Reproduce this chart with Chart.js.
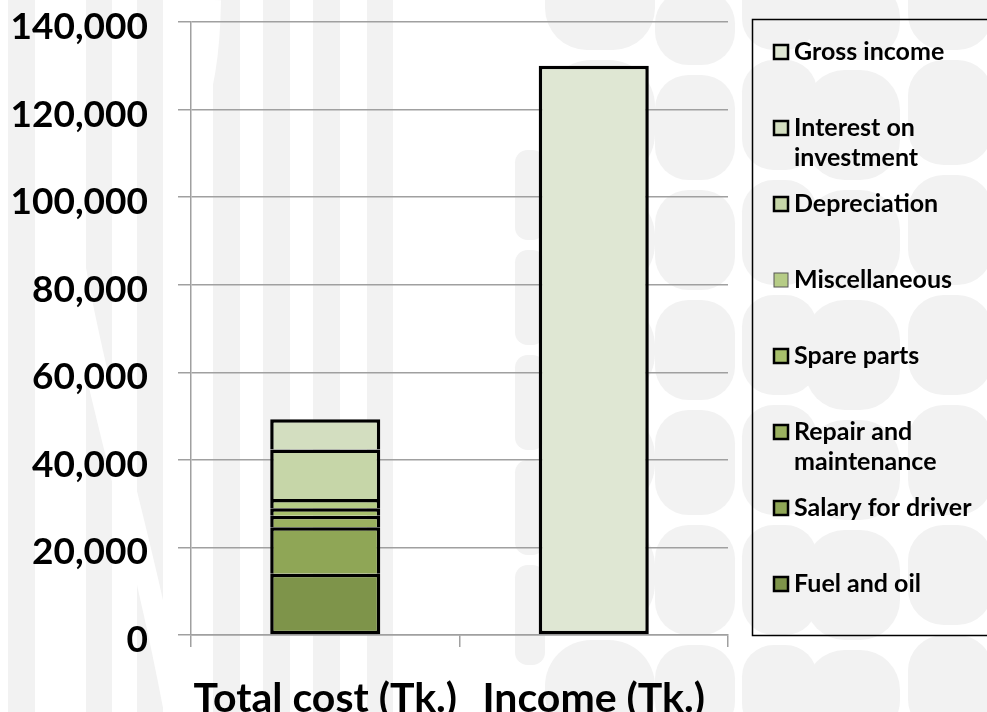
<!DOCTYPE html>
<html>
<head>
<meta charset="utf-8">
<script src="https://cdn.jsdelivr.net/npm/chart.js@4.4.0/dist/chart.umd.min.js"></script>
<style>
  html, body { margin: 0; padding: 0; background: #fff; }
  #wrap { width: 987px; height: 712px; position: relative; }
</style>
</head>
<body>
<div id="wrap"><canvas id="costs" width="987" height="712"></canvas></div>
<script>
// cost heads stacked from the bottom up, then the income bar
const categories = ["Total cost (Tk.)", "Income (Tk.)"];
const cost_names = ["Fuel and oil", "Salary for driver", "Repair and maintenance", "Spare parts",
                    "Miscellaneous", "Depreciation", "Interest on investment"];
const cost_values = [14000, 10600, 2650, 1700, 2100, 11300, 6950];
const income_name = "Gross income";
const income_value = 130000;
const series_colors = ["#7e944a", "#8fa656", "#9bb160", "#a8c06c", "#b6cc86", "#c6d6a8", "#d3dec0", "#dfe7d3"];
// legend text, top entry first, split the way it wraps
const legend_lines = [["Gross income"], ["Interest on", "investment"], ["Depreciation"], ["Miscellaneous"],
                      ["Spare parts"], ["Repair and", "maintenance"], ["Salary for driver"], ["Fuel and oil"]];
const y_max = 140000;
const y_step = 20000;

const FONT = "Lato, 'Open Sans', sans-serif";

let datasets = cost_names.map((name, i) => ({
    label: name,
    data: [cost_values[i], null],
    backgroundColor: series_colors[i],
    borderColor: "#000",
    borderWidth: 3.5,
    borderSkipped: i == 0 ? false : "bottom"
}));
datasets.push({
    label: income_name,
    data: [null, income_value],
    backgroundColor: series_colors[7],
    borderColor: "#000",
    borderWidth: 3.5,
    borderSkipped: false
});

// page texture: pale stripes on the left, cobblestones on the right
const stripes = [[8, 35], [86, 112], [137, 163], [213, 240], [263, 290], [313, 340], [367, 393]];
// each column: left, width, first row top, row heights
const stone_cols = [
    [515, 30, 150, [100, 105, 105, 105, 110]],
    [545, 110, -40, [100, 130, 110, 110, 110, 120, 110]],
    [655, 80, -10, [85, 115, 110, 110, 115, 120, 100]],
    [742, 75, -50, [110, 120, 115, 110, 120, 120, 100]],
    [805, 95, -20, [90, 120, 110, 120, 110, 120, 100]],
    [908, 85, -60, [120, 115, 120, 110, 120, 110, 110]]
];

const backdrop = {
    id: "backdrop",
    beforeDraw(chart) {
        let ctx = chart.ctx;
        ctx.save();
        ctx.fillStyle = "#fff";
        ctx.fillRect(0, 0, chart.width, chart.height);
        ctx.fillStyle = "#f2f2f2";
        stripes.forEach(([a, b]) => ctx.fillRect(a, 0, b - a, chart.height));
        stone_cols.forEach(([x, w, top, heights]) => {
            let y = top;
            heights.forEach(h => {
                ctx.beginPath();
                ctx.roundRect(x, y, w, h - 10, Math.min(w, h) * 0.42);
                ctx.fill();
                y += h;
            });
        });
        // white sweeps crossing the stripes
        ctx.strokeStyle = "#fff";
        ctx.lineWidth = 22;
        ctx.beginPath();
        ctx.moveTo(60, 0);
        ctx.bezierCurveTo(40, 250, 120, 420, 175, 712);
        ctx.stroke();
        ctx.lineWidth = 16;
        ctx.beginPath();
        ctx.moveTo(195, 120);
        ctx.bezierCurveTo(205, 90, 212, 60, 213, 0);
        ctx.stroke();
        ctx.restore();
    }
};

// boxed legend on the right, same order as the stack reads top-down
const sideLegend = {
    id: "sideLegend",
    afterDraw(chart) {
        let ctx = chart.ctx;
        let sets = chart.data.datasets.slice().reverse();
        ctx.save();
        ctx.strokeStyle = "#000";
        ctx.lineWidth = 1.5;
        ctx.strokeRect(752.5, 19.5, 250, 616);
        ctx.font = "bold 25px " + FONT;
        ctx.textBaseline = "middle";
        sets.forEach((ds, i) => {
            let y = 52 + i * 76;
            ctx.fillStyle = ds.backgroundColor;
            ctx.fillRect(774, y - 7, 14, 14);
            ctx.strokeStyle = ds.label == "Miscellaneous" ? "#555" : "#000";
            ctx.lineWidth = ds.label == "Miscellaneous" ? 1 : 2.5;
            ctx.strokeRect(774, y - 7, 14, 14);
            ctx.fillStyle = "#000";
            legend_lines[i].forEach((line, k) => ctx.fillText(line, 794, y + k * 30));
        });
        ctx.restore();
    }
};

new Chart(document.getElementById("costs"), {
    type: "bar",
    data: { labels: categories, datasets: datasets },
    plugins: [backdrop, sideLegend],
    options: {
        responsive: false,
        animation: false,
        layout: { padding: { left: 0, right: 259, top: 22, bottom: 0 } },
        datasets: { bar: { barPercentage: 0.41, categoryPercentage: 1.0 } },
        plugins: { legend: { display: false }, tooltip: { enabled: false } },
        scales: {
            x: {
                stacked: true,
                afterFit: scale => { scale.height = 77; scale.paddingLeft = 0; scale.paddingRight = 0; },
                grid: { drawOnChartArea: false, color: "#a0a0a0", lineWidth: 1.5, tickLength: 12, offset: true },
                border: { color: "#a0a0a0", width: 1.5 },
                ticks: {
                    color: "#000",
                    maxRotation: 0,
                    minRotation: 0,
                    autoSkip: false,
                    font: { family: FONT, weight: "bold", size: 41 },
                    padding: 27
                }
            },
            y: {
                stacked: true,
                min: 0,
                max: y_max,
                afterFit: scale => { scale.width = 191; scale.paddingTop = 0; scale.paddingBottom = 0; },
                grid: { color: "#a0a0a0", lineWidth: 1.5, tickLength: 13 },
                border: { color: "#a0a0a0", width: 1.5 },
                ticks: {
                    stepSize: y_step,
                    color: "#000",
                    padding: 30,
                    labelOffset: 5,
                    font: { family: FONT, weight: "bold", size: 37 },
                    callback: v => v.toLocaleString("en-US")
                }
            }
        }
    }
});
</script>
</body>
</html>
